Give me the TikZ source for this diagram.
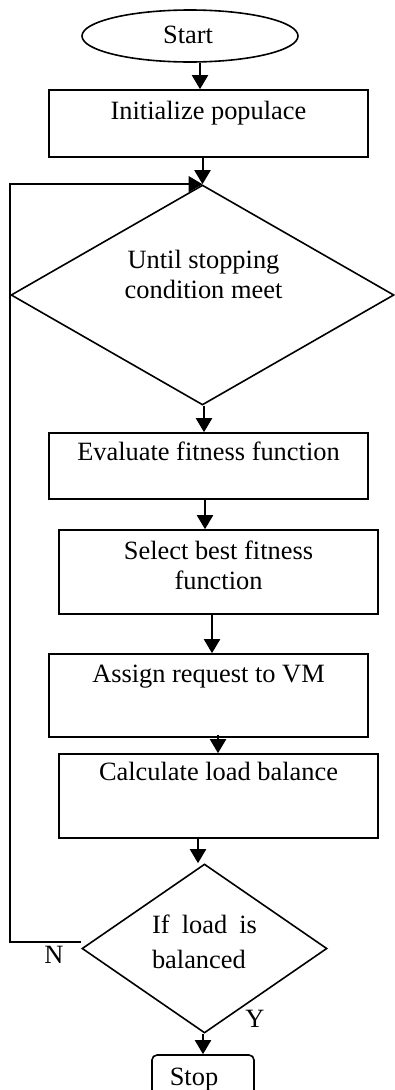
\documentclass[tikz,border=0pt]{standalone}
\usepackage{fontspec}
\setmainfont{Liberation Serif}
\usetikzlibrary{shapes.geometric,arrows.meta}
\newcommand{\txtat}[3]{\raisebox{#1}[0pt][0pt]{\makebox[0pt]{\kern#2\relax#3\kern-#2\relax}}}
\newcommand{\twoline}[2]{\begin{tabular}[b]{@{}c@{}}#1\\#2\end{tabular}}
\tikzset{
  box/.style={draw, line width=1.6pt, rectangle, inner sep=0pt},
  dia/.style={draw, line width=1.6pt, diamond, inner sep=0pt},
  oval/.style={draw, line width=1.6pt, ellipse, inner sep=0pt},
  arr/.style={line width=2pt, -{Triangle[length=14pt,width=16pt]}},
  lbl/.style={inner sep=0pt, anchor=base}
}
\begin{document}
\begin{tikzpicture}[x=1pt, y=-1pt, font=\fontsize{26.4}{30}\selectfont]
\useasboundingbox (0,0) rectangle (395,1090);
\clip (0,0) rectangle (395,1090);
\node[oval, minimum width=216pt, minimum height=52pt] (start) at (190,36) {\txtat{-7pt}{-2pt}{Start}};
\node[box, minimum width=319pt, minimum height=67pt] (init) at (208.5,123.5) {\txtat{4.5pt}{0pt}{Initialize populace}};
\node[dia, minimum width=383pt, minimum height=220pt] (d1) at (202.5,295) {\txtat{-3pt}{1pt}{\twoline{Until stopping}{condition meet}}};
\node[box, minimum width=319pt, minimum height=66pt] (eval) at (208.5,466) {\txtat{5.5pt}{0pt}{Evaluate fitness function}};
\node[box, minimum width=319pt, minimum height=84pt] (sel) at (218.5,572) {\txtat{-17pt}{0pt}{\twoline{Select best fitness}{function}}};
\node[box, minimum width=319pt, minimum height=83pt] (assign) at (208.5,695.5) {\txtat{13pt}{0pt}{Assign request to VM}};
\node[box, minimum width=319pt, minimum height=84pt] (calc) at (218.5,796) {\txtat{15.5pt}{0pt}{Calculate load balance}};
\node[dia, minimum width=245pt, minimum height=169pt] (d2) at (204.5,948.5) {\txtat{-19.5pt}{0pt}{{\fontsize{26.4}{35}\selectfont\begin{tabular}[b]{@{}l@{}}\makebox[105pt][s]{If load is}\\balanced\end{tabular}}}};
\node[box, rounded corners=5pt, minimum width=102pt, minimum height=50pt] (stop) at (203,1080) {\txtat{-5pt}{-9pt}{Stop}};
\node[lbl] (nlab) at (54,963) {N};
\node[lbl] (ylab) at (255,1027) {Y};
\draw[arr] ([xshift=10pt]start.south) -- ([xshift=10pt]start.south |- init.north);
\draw[arr] (init.south -| d1.north) -- (d1.north);
\draw[arr] ([yshift=7pt]d2.west) -- ([yshift=7pt]d2.west -| d1.west) |- (d1.north);
\draw[arr] ([xshift=1.5pt]d1.south) -- ([xshift=1.5pt]d1.south |- eval.north);
\draw[arr] ([xshift=-3.5pt]eval.south) -- ([xshift=-3.5pt]eval.south |- sel.north);
\draw[arr] ([xshift=-6.5pt]sel.south) -- ([xshift=-6.5pt]sel.south |- assign.north);
\draw[arr] ([xshift=9.5pt,yshift=3pt]assign.south) -- ([xshift=9.5pt]assign.south |- calc.north);
\draw[arr] ([xshift=-20.5pt]calc.south) -- ([xshift=-20.5pt]calc.south |- d2.north);
\draw[arr] ([xshift=-1.5pt]d2.south) -- ([xshift=-1.5pt]d2.south |- stop.north);
\end{tikzpicture}
\end{document}
